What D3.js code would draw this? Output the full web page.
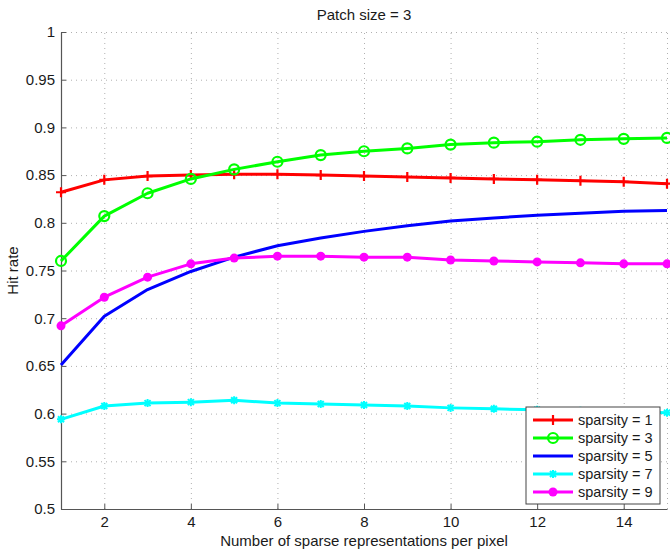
<!DOCTYPE html>
<html>
<head>
<meta charset="utf-8">
<script src="https://cdn.jsdelivr.net/npm/d3@7"></script>
<style>
  html, body { margin: 0; padding: 0; background: #fff; }
  svg text { font-family: "Liberation Sans", Arial, Helvetica, sans-serif; fill: #1a1a1a; }
</style>
</head>
<body>
<svg id="chart" width="670" height="550"></svg>
<script>
// Number of sparse representations per pixel
const xValues = [1, 2, 3, 4, 5, 6, 7, 8, 9, 10, 11, 12, 13, 14, 15];

// Hit rate per sparsity level
const sparsity1 = [0.832, 0.845, 0.849, 0.850, 0.851, 0.851, 0.850, 0.849, 0.848, 0.847, 0.846, 0.845, 0.844, 0.843, 0.841];
const sparsity3 = [0.760, 0.807, 0.831, 0.846, 0.856, 0.864, 0.871, 0.875, 0.878, 0.882, 0.884, 0.885, 0.887, 0.888, 0.889];
const sparsity5 = [0.651, 0.702, 0.730, 0.749, 0.764, 0.776, 0.784, 0.791, 0.797, 0.802, 0.805, 0.808, 0.810, 0.812, 0.813];
const sparsity7 = [0.594, 0.608, 0.611, 0.612, 0.614, 0.611, 0.610, 0.609, 0.608, 0.606, 0.605, 0.604, 0.603, 0.602, 0.601];
const sparsity9 = [0.692, 0.722, 0.743, 0.757, 0.763, 0.765, 0.765, 0.764, 0.764, 0.761, 0.760, 0.759, 0.758, 0.757, 0.757];

const seriesNames = ["sparsity = 1", "sparsity = 3", "sparsity = 5", "sparsity = 7", "sparsity = 9"];
const seriesColors = ["#ff0000", "#00ff00", "#0000ff", "#00ffff", "#ff00ff"];
const seriesMarkers = ["plus", "circle", "none", "star", "dot"];

const xTicks = [2, 4, 6, 8, 10, 12, 14];
const yTicks = [0.5, 0.55, 0.6, 0.65, 0.7, 0.75, 0.8, 0.85, 0.9, 0.95, 1];

const titleText = "Patch size = 3";
const xLabelText = "Number of sparse representations per pixel";
const yLabelText = "Hit rate";

const series = [sparsity1, sparsity3, sparsity5, sparsity7, sparsity9].map((vals, i) => ({
  name: seriesNames[i],
  color: seriesColors[i],
  marker: seriesMarkers[i],
  points: vals.map((v, j) => ({ x: xValues[j], y: v }))
}));

const margin = { left: 61, right: 3, top: 32, bottom: 41 };
const width = 670, height = 550;
const svg = d3.select("#chart");

const x = d3.scaleLinear().domain([1, 15]).range([margin.left, width - margin.right]);
const y = d3.scaleLinear().domain([0.5, 1]).range([height - margin.bottom, margin.top]);

// dotted grid
const grid = svg.append("g").attr("stroke", "#b0b0b0").attr("stroke-width", 1).attr("stroke-dasharray", "1,4");
grid.selectAll("line.gx").data(xTicks.concat([15])).join("line")
  .attr("x1", d => x(d) + 0.5).attr("x2", d => x(d) + 0.5)
  .attr("y1", y(0.5)).attr("y2", y(1));
grid.selectAll("line.gy").data(yTicks.filter(d => d > 0.5)).join("line")
  .attr("x1", x(1)).attr("x2", x(15))
  .attr("y1", d => y(d) + 0.5).attr("y2", d => y(d) + 0.5);

// axes
const xAxis = d3.axisBottom(x).tickValues(xTicks).tickSizeInner(-5).tickSizeOuter(0).tickPadding(7).tickFormat(d3.format("d"));
const yAxis = d3.axisLeft(y).tickValues(yTicks).tickSizeInner(-5).tickSizeOuter(0).tickPadding(6).tickFormat(d => d3.format("")(+d.toFixed(2)));

const gx = svg.append("g").attr("transform", `translate(0,${y(0.5)})`).call(xAxis);
const gy = svg.append("g").attr("transform", `translate(${x(1)},0)`).call(yAxis);
[gx, gy].forEach(g => {
  g.select(".domain").attr("stroke", "#555").attr("stroke-width", 1.2);
  g.selectAll(".tick line").attr("stroke", "#555").attr("stroke-width", 1);
  g.selectAll(".tick text").attr("font-size", 15).attr("fill", "#1a1a1a")
    .attr("font-family", "'Liberation Sans', Arial, sans-serif");
});

// lines
const line = d3.line().x(d => x(d.x)).y(d => y(d.y));
const plot = svg.append("g");

function drawMarker(g, kind, color) {
  if (kind === "plus") {
    g.append("path").attr("d", "M-5,0H5M0,-5V5").attr("stroke", color).attr("stroke-width", 2.2).attr("fill", "none");
  } else if (kind === "circle") {
    g.append("circle").attr("r", 5).attr("fill", "none").attr("stroke", color).attr("stroke-width", 2.2);
  } else if (kind === "dot") {
    g.append("circle").attr("r", 4.5).attr("fill", color);
  } else if (kind === "star") {
    g.append("path").attr("d", "M-4,0H4M0,-4V4M-3,-3L3,3M-3,3L3,-3").attr("stroke", color).attr("stroke-width", 2).attr("fill", "none");
  }
}

series.forEach(s => {
  plot.append("path").datum(s.points)
    .attr("d", line).attr("fill", "none")
    .attr("stroke", s.color).attr("stroke-width", 3)
    .attr("stroke-linejoin", "round");
  if (s.marker !== "none") {
    plot.selectAll(null).data(s.points).join("g")
      .attr("transform", d => `translate(${x(d.x)},${y(d.y)})`)
      .each(function () { drawMarker(d3.select(this), s.marker, s.color); });
  }
});

// title and axis labels
svg.append("text").attr("x", (x(1) + x(15)) / 2).attr("y", 20)
  .attr("text-anchor", "middle").attr("font-size", 15).text(titleText);
svg.append("text").attr("x", (x(1) + x(15)) / 2).attr("y", 546)
  .attr("text-anchor", "middle").attr("font-size", 15).text(xLabelText);
svg.append("text").attr("transform", `translate(18,${(y(0.5) + y(1)) / 2}) rotate(-90)`)
  .attr("text-anchor", "middle").attr("font-size", 15).text(yLabelText);

// legend
const lg = svg.append("g").attr("transform", "translate(526,407)");
lg.append("rect").attr("width", 134).attr("height", 97)
  .attr("fill", "#fff").attr("stroke", "#444").attr("stroke-width", 1);
series.forEach((s, i) => {
  const row = lg.append("g").attr("transform", `translate(0,${13 + i * 18})`);
  row.append("line").attr("x1", 7).attr("x2", 47).attr("y1", 0).attr("y2", 0)
    .attr("stroke", s.color).attr("stroke-width", 3);
  const m = row.append("g").attr("transform", "translate(27,0)");
  drawMarker(m, s.marker, s.color);
  row.append("text").attr("x", 52).attr("y", 5).attr("font-size", 14.5).text(s.name);
});
</script>
</body>
</html>
